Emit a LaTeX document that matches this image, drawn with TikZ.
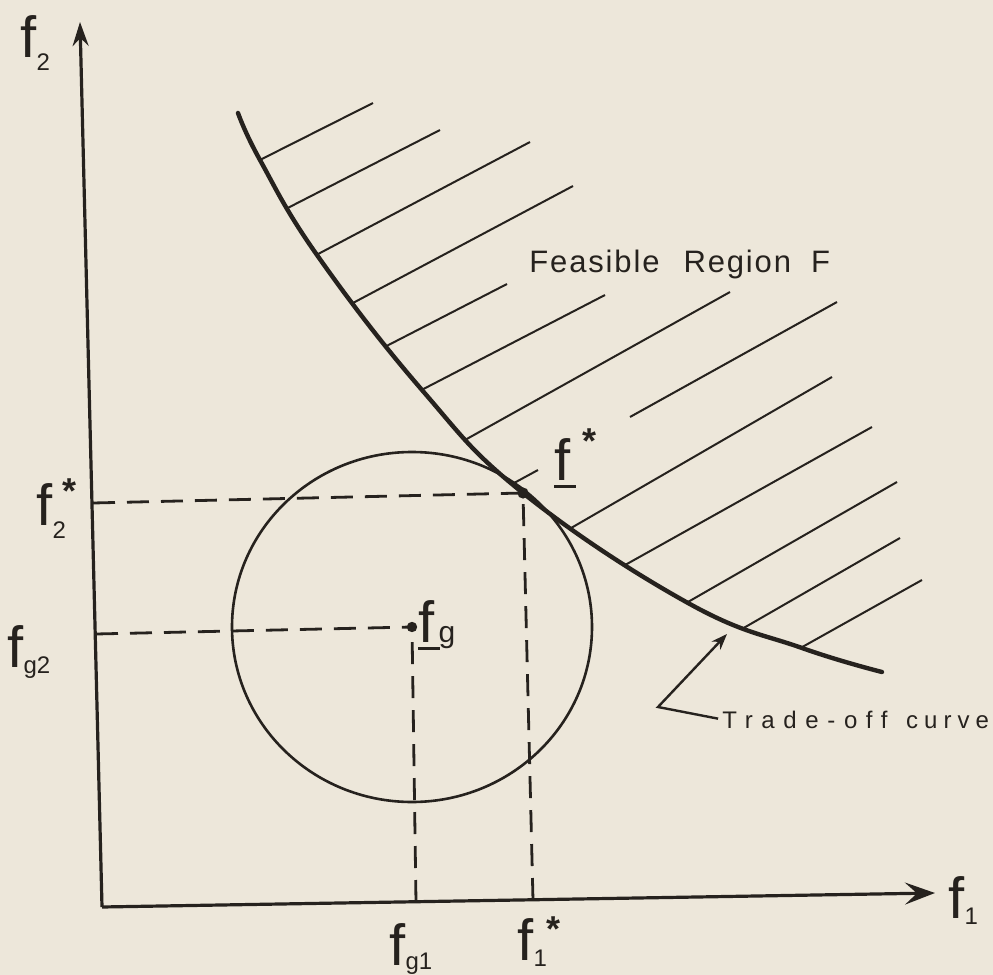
\documentclass[tikz,border=0pt]{standalone}
\usepackage{fontspec}
\setmainfont{Liberation Sans}
\usetikzlibrary{arrows.meta}
\definecolor{paper}{RGB}{237,231,218}
\definecolor{ink}{RGB}{38,34,30}
\newcommand{\bigf}{\fontsize{29}{30}\selectfont}
\newcommand{\subf}{\fontsize{12}{12}\selectfont}
\newcommand{\starf}{\fontsize{18}{18}\selectfont\bfseries *}
\newcommand{\ulf}[1]{\rlap{\rule[-4pt]{11pt}{1.4pt}}#1}

\begin{document}
\begin{tikzpicture}[
  x=0.5pt, y=-0.5pt,
  axis/.style = {ink, line width=1.6pt},
  tradeoff/.style = {ink, line width=2.2pt, line cap=round},
  hatch/.style = {ink, line width=1pt},
  guide/.style = {ink, line width=1.4pt, dash pattern=on 11pt off 6pt},
  circ/.style = {ink, line width=1.3pt},
  lab/.style = {inner sep=0pt, anchor=base west, text=ink, font=\bigf},
  note/.style = {inner sep=0pt, anchor=base west, text=ink}
]
\path[use as bounding box, fill=paper] (0,0) rectangle (993,975);

\coordinate (O) at (102,907);
\coordinate (ytip) at (80,22);
\coordinate (xtip) at (935,893);
\coordinate (fstar) at (523,493);
\coordinate (fg) at (412,627);
\coordinate (y2s) at (93,503);
\coordinate (yg2) at (96,634);
\coordinate (xg1) at (416,902);
\coordinate (x1s) at (533,900);
\coordinate (kink) at (658,707);
\coordinate (tip) at (727,634);

\draw[axis, -{Stealth[length=12pt, width=8pt, inset=4pt]}] (O) -- (ytip);
\draw[axis, -{Stealth[length=15pt, width=11pt, inset=6pt]}] (O) -- (xtip);

\draw[guide] (y2s) -- (fstar);
\draw[guide] (x1s) -- (fstar);
\draw[guide] (yg2) -- (fg);
\draw[guide] (xg1) -- (fg);

\draw[circ] (fg) ellipse [x radius=90pt, y radius=87.5pt];

\begin{scope}
  \clip plot[smooth, tension=0.7] coordinates {
    (238,113) (260,160) (317,255) (422,390) (523,493) (688,603) (802,648) (882,672)}
    -- (993,700) -- (993,0) -- (238,0) -- cycle;
  \foreach \xa/\ya/\xb/\yb in {260/160/373/103, 288/208/440/130, 317/255/530/142,
      350/305/573/186, 385/347/507/284, 422/390/605/295, 470/438/730/292,
      573/528/832/377, 623/567/872/427, 688/603/897/482, 742/630/900/538,
      802/648/922/580, 517/482/538/470}
    \draw[hatch] ({\xa-14},{\ya+7}) -- (\xb,\yb);
  \draw[hatch] (630,417) -- (837,302);
\end{scope}

\draw[tradeoff] plot[smooth, tension=0.7] coordinates {
  (238,113) (260,160) (317,255) (422,390) (523,493) (688,603) (802,648) (882,672)};

\fill[ink] (fstar) circle [radius=2.8pt];
\fill[ink] (fg) circle [radius=2.6pt];

\node[lab] (f2)  at (20,57)   {f\raisebox{-6.5pt}{\subf 2}};
\node[lab] (f2s) at (36,525)  {f\rlap{\hspace{5pt}\raisebox{11pt}{\starf}}\raisebox{-6.5pt}{\subf 2}};
\node[lab] (fg2) at (7,667)   {f\raisebox{-3pt}{\subf g2}};
\node[lab] (fg1) at (389,965) {f\raisebox{-2pt}{\subf g1}};
\node[lab] (f1s) at (517,960) {f\raisebox{-3pt}{\subf 1}\raisebox{9.5pt}{\starf}};
\node[lab] (f1)  at (948,918) {f\raisebox{-3pt}{\subf 1}};
\node[lab] (fsl) at (554,480) {\ulf{f}\hspace{6pt}\raisebox{13.5pt}{\starf}};
\node[lab] (fgl) at (418,642) {\ulf{f}\hspace{2pt}{\fontsize{15}{15}\selectfont g}};

\node[note, font=\fontsize{15.5}{16}\selectfont\addfontfeature{LetterSpace=6}] (feas)
  at (529,272) {Feasible\hspace{12pt}Region\hspace{10pt}F};
\node[note, font=\fontsize{12}{13}\selectfont\addfontfeature{LetterSpace=25}] (toc)
  at (722,728) {{\addfontfeature{LetterSpace=36}Trade-off}\hspace{3pt} curve};

\draw[ink, line width=1.2pt, shorten <=2pt, -{Stealth[length=8pt, width=6pt]}]
  (toc.west) -- (kink) -- (tip);
\end{tikzpicture}
\end{document}
